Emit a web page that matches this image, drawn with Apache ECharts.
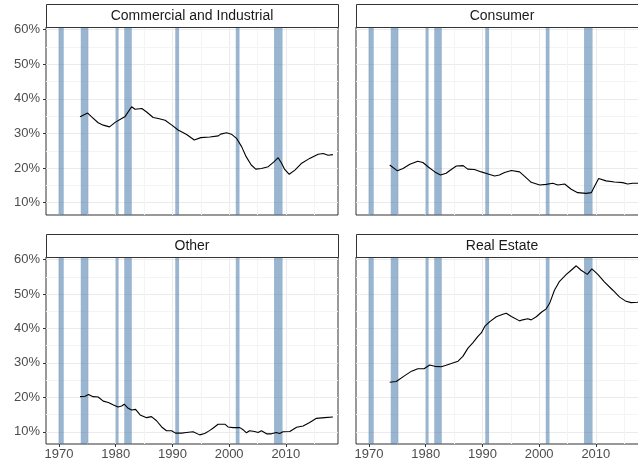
<!DOCTYPE html>
<html>
<head>
<meta charset="utf-8">
<script src="https://cdn.jsdelivr.net/npm/echarts@6/dist/echarts.min.js"></script>
<style>
	html, body { margin: 0; padding: 0; background: #fff; }
	#chart { width: 638px; height: 467px; }
</style>
</head>
<body>
<div id="chart"></div>
<script>
// panel titles, in facet order
var panelNames = [ 'Commercial and Industrial', 'Consumer', 'Other', 'Real Estate' ];

// NBER recessions (start / end, decimal years)
var recStart = [ 1969.92, 1973.83, 1980.0, 1981.5, 1990.5, 2001.17, 2007.92 ];
var recEnd = [ 1970.83, 1975.17, 1980.5, 1982.83, 1991.17, 2001.83, 2009.42 ];

// tick labels
var xTicks = [ 1970, 1980, 1990, 2000, 2010 ];
var xMinor = [ 1975, 1985, 1995, 2005, 2015 ];
var yTicks = [ 10, 20, 30, 40, 50, 60 ];
var yMinor = [ 15, 25, 35, 45, 55 ];

// Commercial and Industrial share (%)
var ciYear = [ 1973.7, 1975.05, 1975.75, 1976.9, 1977.8, 1978.9, 1979.9, 1981.05, 1981.6, 1982.8, 1983.4, 1984.6, 1985.45, 1986.6, 1987.5, 1988.7, 1989.9, 1991.0, 1992.5, 1993.85, 1995.0, 1996.6, 1998.1, 1998.5, 1999.55, 2000.4, 2001.3, 2002.2, 2003.0, 2003.9, 2004.7, 2005.7, 2006.9, 2007.9, 2008.65, 2009.25, 2009.8, 2010.6, 2011.6, 2012.8, 2014.2, 2015.7, 2016.6, 2017.45, 2018.3 ];
var ciValue = [ 34.8, 35.9, 34.8, 33.1, 32.4, 31.9, 33.2, 34.3, 34.8, 37.7, 37.0, 37.2, 36.2, 34.6, 34.3, 33.8, 32.4, 31.0, 29.7, 28.1, 28.8, 29.0, 29.3, 29.8, 30.2, 29.8, 28.6, 26.2, 23.3, 20.9, 19.7, 19.9, 20.4, 21.8, 23.0, 21.4, 19.6, 18.2, 19.4, 21.4, 22.8, 24.0, 24.2, 23.7, 23.9 ];

// Consumer share (%)
var conYear = [ 1973.65, 1975.0, 1976.0, 1977.2, 1978.6, 1979.5, 1980.4, 1981.6, 1982.6, 1983.6, 1984.5, 1985.4, 1986.6, 1987.4, 1988.6, 1989.8, 1991.0, 1992.15, 1993.0, 1993.9, 1995.1, 1996.55, 1997.4, 1998.6, 2000.1, 2001.25, 2002.4, 2003.3, 2004.5, 2005.65, 2006.8, 2008.3, 2009.2, 2009.8, 2010.5, 2011.8, 2013.3, 2014.75, 2015.6, 2016.5, 2017.3, 2018.3 ];
var conValue = [ 20.9, 19.2, 19.9, 21.1, 22.0, 21.6, 20.4, 18.9, 18.0, 18.5, 19.6, 20.6, 20.7, 19.7, 19.6, 18.9, 18.3, 17.7, 18.0, 18.7, 19.3, 18.9, 17.7, 15.9, 15.1, 15.3, 15.6, 15.1, 15.4, 13.9, 12.9, 12.7, 12.9, 14.8, 17.0, 16.3, 16.0, 15.8, 15.4, 15.6, 15.6, 15.7 ];

// Other share (%)
var othYear = [ 1973.7, 1974.6, 1975.2, 1976.0, 1976.9, 1977.8, 1978.7, 1979.6, 1980.4, 1981.05, 1981.5, 1982.2, 1982.8, 1983.5, 1984.3, 1985.45, 1986.3, 1987.2, 1988.1, 1988.95, 1989.25, 1989.85, 1990.55, 1991.6, 1992.45, 1993.65, 1994.8, 1995.7, 1996.6, 1997.2, 1998.05, 1999.25, 1999.8, 2000.7, 2001.9, 2002.45, 2003.05, 2003.6, 2004.5, 2005.1, 2005.7, 2006.6, 2007.45, 2008.3, 2008.9, 2009.5, 2010.7, 2011.9, 2013.05, 2014.2, 2015.4, 2016.85, 2018.3 ];
var othValue = [ 20.2, 20.3, 20.8, 20.2, 20.1, 18.9, 18.5, 17.8, 17.2, 17.5, 18.0, 16.8, 16.3, 16.5, 14.9, 14.1, 14.4, 13.2, 11.4, 10.3, 9.8, 10.3, 9.6, 9.6, 9.8, 10.0, 9.1, 9.5, 10.4, 11.1, 12.2, 12.2, 11.4, 11.2, 11.2, 10.6, 9.7, 10.3, 10.1, 9.8, 10.3, 9.4, 9.4, 9.8, 9.5, 10.0, 10.1, 11.3, 11.7, 12.7, 13.9, 14.1, 14.3 ];

// Real Estate share (%)
var reYear = [ 1973.65, 1974.8, 1975.1, 1976.3, 1977.5, 1978.6, 1979.7, 1980.7, 1981.6, 1982.75, 1983.6, 1984.5, 1985.7, 1986.55, 1987.45, 1988.3, 1989.2, 1989.8, 1990.4, 1991.3, 1992.45, 1993.6, 1994.2, 1995.1, 1996.55, 1997.1, 1998.0, 1998.6, 1999.5, 2000.4, 2001.25, 2001.85, 2002.7, 2003.6, 2004.8, 2005.65, 2006.55, 2007.4, 2008.5, 2009.3, 2010.35, 2011.5, 2013.0, 2014.2, 2015.2, 2016.2, 2017.3, 2018.3 ];
var reValue = [ 24.4, 24.6, 24.5, 26.3, 27.6, 28.3, 28.3, 29.4, 29.0, 28.9, 29.3, 29.8, 30.5, 31.9, 34.3, 35.8, 37.7, 38.7, 40.6, 42.0, 43.4, 44.1, 44.4, 43.5, 42.2, 42.5, 42.8, 42.5, 43.4, 44.7, 45.7, 47.3, 51.1, 53.7, 55.7, 56.9, 58.2, 56.9, 55.7, 57.3, 55.7, 53.5, 51.1, 49.1, 48.0, 47.5, 47.6, 47.8 ];

var panelYears = [ ciYear, conYear, othYear, reYear ];
var panelValues = [ ciValue, conValue, othValue, reValue ];

var FONT = '"Liberation Sans", Arial, Helvetica, sans-serif';

// panel boxes (ggplot facet_wrap layout, right column runs past the edge)
var panelLeft = [ 46, 356, 46, 356 ];
var panelTop = [ 27, 27, 257, 257 ];
var panelW = 292;
var panelH = [ 188, 188, 187, 187 ];
var stripH = 23;

function zip(xs, ys) {
	var out = [];
	for (var i = 0; i < xs.length; i++) {
		out.push([ xs[i], ys[i] ]);
	}
	return out;
}

function recessionAreas() {
	var areas = [];
	for (var i = 0; i < recStart.length; i++) {
		areas.push([ { xAxis : recStart[i] }, { xAxis : recEnd[i] } ]);
	}
	return areas;
}

function minorLines() {
	var lines = [];
	for (var i = 0; i < xMinor.length; i++) {
		lines.push({ xAxis : xMinor[i] });
	}
	for (var j = 0; j < yMinor.length; j++) {
		lines.push({ yAxis : yMinor[j] });
	}
	return lines;
}

var grids = [], xAxes = [], yAxes = [], series = [], graphics = [];

for (var p = 0; p < 4; p++) {
	var bottomRow = p >= 2;
	var leftCol = p % 2 == 0;

	grids.push({
		left : panelLeft[p],
		top : panelTop[p],
		width : panelW,
		height : panelH[p],
		outerBoundsMode : 'none',
		containLabel : false,
		show : true,
		backgroundColor : '#fff',
		borderColor : '#333333',
		borderWidth : 1,
		z : 0
	});

	xAxes.push({
		gridIndex : p,
		type : 'value',
		min : 1967.7,
		max : 2019.2,
		splitNumber : 5,
		axisLine : { show : false },
		axisTick : {
			show : bottomRow,
			length : 3,
			customValues : xTicks,
			lineStyle : { color : '#333333' }
		},
		axisLabel : {
			show : bottomRow,
			customValues : xTicks,
			margin : 4,
			formatter : function (v) { return String(v); },
			fontFamily : FONT,
			fontSize : 13,
			color : '#4d4d4d'
		},
		splitLine : { show : true, lineStyle : { color : '#ebebeb', width : 1 } }
	});

	yAxes.push({
		gridIndex : p,
		type : 'value',
		min : 6.45,
		max : 60.75,
		splitNumber : 5,
		axisLine : { show : false },
		axisTick : {
			show : leftCol,
			length : 3,
			customValues : yTicks,
			lineStyle : { color : '#333333' }
		},
		axisLabel : {
			show : leftCol,
			customValues : yTicks,
			margin : 6,
			formatter : '{value}%',
			fontFamily : FONT,
			fontSize : 13,
			color : '#4d4d4d'
		},
		splitLine : { show : true, lineStyle : { color : '#ebebeb', width : 1 } }
	});

	// minor grid
	series.push({
		type : 'line',
		xAxisIndex : p,
		yAxisIndex : p,
		data : [],
		silent : true,
		z : 1,
		markLine : {
			silent : true,
			z : 1,
			symbol : [ 'none', 'none' ],
			label : { show : false },
			animation : false,
			lineStyle : { color : '#f4f4f4', width : 1, type : 'solid' },
			data : minorLines()
		}
	});

	// recession shading
	series.push({
		type : 'line',
		xAxisIndex : p,
		yAxisIndex : p,
		data : [],
		silent : true,
		z : 2,
		markArea : {
			silent : true,
			z : 2,
			animation : false,
			itemStyle : { color : 'rgba(70,120,170,0.55)' },
			data : recessionAreas()
		}
	});

	// share line
	series.push({
		name : panelNames[p],
		type : 'line',
		xAxisIndex : p,
		yAxisIndex : p,
		data : zip(panelYears[p], panelValues[p]),
		showSymbol : false,
		smooth : false,
		z : 3,
		lineStyle : { color : '#000', width : 1.1 },
		itemStyle : { color : '#000' }
	});

	// facet strip
	graphics.push({
		type : 'rect',
		shape : { x : panelLeft[p] + 0.5, y : panelTop[p] - stripH + 0.5, width : panelW, height : stripH },
		style : { fill : '#fff', stroke : '#333333', lineWidth : 1 },
		z : 10
	});
	graphics.push({
		type : 'text',
		x : panelLeft[p] + panelW / 2,
		y : panelTop[p] - stripH / 2 + 0.5,
		style : {
			text : panelNames[p],
			align : 'center',
			verticalAlign : 'middle',
			font : '14px ' + FONT,
			fill : '#1a1a1a'
		},
		z : 11
	});
}

var chart = echarts.init(document.getElementById('chart'), null, { renderer : 'canvas' });
chart.setOption({
	animation : false,
	backgroundColor : '#fff',
	grid : grids,
	xAxis : xAxes,
	yAxis : yAxes,
	series : series,
	graphic : graphics
});
</script>
</body>
</html>
